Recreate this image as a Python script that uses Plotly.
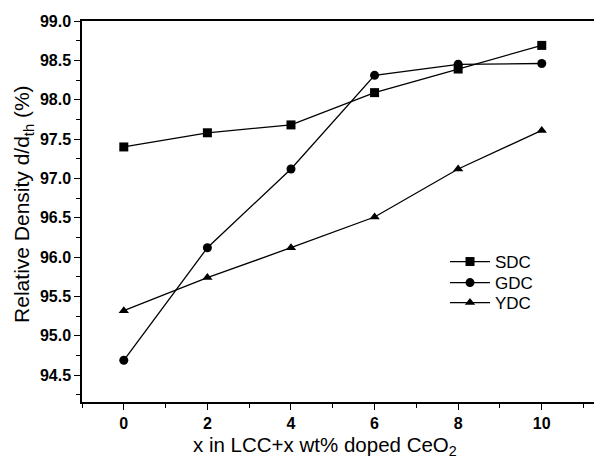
import plotly.graph_objects as go

x_vals = [0, 2, 4, 6, 8, 10]
sdc = [97.40, 97.58, 97.68, 98.09, 98.39, 98.69]
gdc = [94.69, 96.12, 97.12, 98.31, 98.45, 98.46]
ydc = [95.32, 95.74, 96.12, 96.51, 97.12, 97.61]

x_title = "x in LCC+x wt% doped CeO<sub>2</sub>"
y_title = "Relative Density d/d<sub>th</sub> (%)"

series = [("SDC", sdc, "square", "legend"),
          ("GDC", gdc, "circle", "legend2"),
          ("YDC", ydc, "triangle-up", "legend3")]

FONT = "Liberation Sans, Arial, sans-serif"

fig = go.Figure()
for name, vals, sym, lg in series:
    fig.add_trace(go.Scatter(
        x=x_vals, y=vals, name=name, mode="lines+markers", legend=lg,
        line=dict(color="black", width=1.3),
        marker=dict(symbol=sym, size=9, color="black"),
    ))

def leg(y):
    return dict(x=0.709, y=y, xanchor="left", yanchor="middle",
                bgcolor="rgba(0,0,0,0)", font=dict(size=17, family=FONT, color="black"),
                itemwidth=40)

fig.update_layout(
    width=594, height=459,
    margin=dict(l=82, r=0, t=21, b=57),
    paper_bgcolor="white", plot_bgcolor="white",
    font=dict(family=FONT, color="black"),
    showlegend=True,
    legend=leg(0.3675), legend2=leg(0.3123), legend3=leg(0.2598),
    annotations=[
        dict(text=x_title, xref="paper", yref="paper", x=0.4746, y=-0.077,
             xanchor="center", yanchor="top", showarrow=False,
             font=dict(size=20.5, family=FONT, color="black")),
        dict(text=y_title, xref="paper", yref="paper", x=-0.1152, y=0.52,
             xanchor="center", yanchor="middle", textangle=-90, showarrow=False,
             font=dict(size=21, family=FONT, color="black")),
    ],
)
fig.update_xaxes(
    range=[-1, 11.25], tickmode="array", tickvals=[0, 2, 4, 6, 8, 10],
    ticks="outside", ticklen=6, tickwidth=1.3, tickcolor="black",
    minor=dict(tickmode="array", tickvals=[-1, 1, 3, 5, 7, 9, 11], ticks="outside", ticklen=4, tickwidth=1.3, tickcolor="black"),
    showline=True, linecolor="black", linewidth=1.5, mirror=True,
    showgrid=False, zeroline=False,
    tickfont=dict(size=16, family=FONT, weight="bold"),
)
fig.update_yaxes(
    range=[94.16, 99.0], tickmode="array",
    tickvals=[94.5, 95.0, 95.5, 96.0, 96.5, 97.0, 97.5, 98.0, 98.5, 99.0],
    ticktext=["94.5", "95.0", "95.5", "96.0", "96.5", "97.0", "97.5", "98.0", "98.5", "99.0"],
    ticks="outside", ticklen=6, tickwidth=1.3, tickcolor="black",
    minor=dict(dtick=0.25, tick0=94.25, ticks="outside", ticklen=4, tickwidth=1.3, tickcolor="black"),
    showline=True, linecolor="black", linewidth=1.5,
    showgrid=False, zeroline=False,
    tickfont=dict(size=16, family=FONT, weight="bold"),
)

fig.write_html("out.html", config={"displayModeBar": False},
               post_script="document.body.style.margin='0';document.body.style.padding='0';")
